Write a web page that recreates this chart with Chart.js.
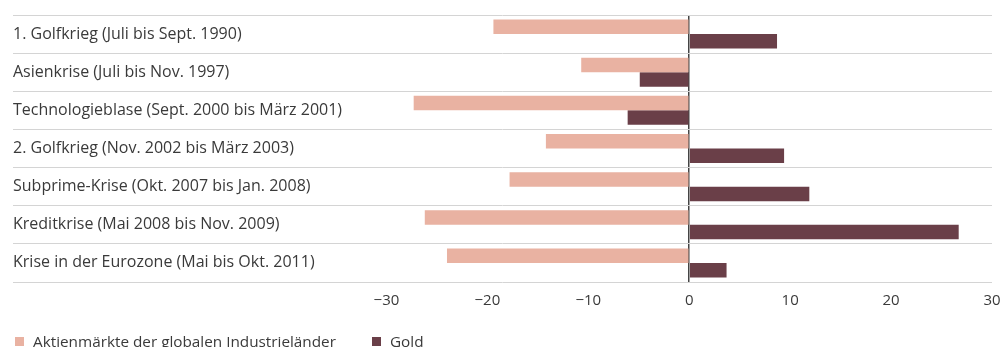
<!DOCTYPE html>
<html>
<head>
<meta charset="utf-8">
<script src="https://cdn.jsdelivr.net/npm/chart.js@4"></script>
<style>
  body { margin: 0; background: #fff; }
  #wrap { position: relative; width: 1005px; height: 347px; }
  #legend { position: absolute; left: 15px; top: 333px; font: 15.3px "Open Sans", sans-serif; color: #3a3a3a; line-height: 16px; white-space: nowrap; }
  #legend span.box { display: inline-block; width: 9px; height: 9px; margin-right: 9px; vertical-align: 1px; }
  #legend span.item { margin-right: 36px; }
</style>
</head>
<body>
<div id="wrap">
  <canvas id="myChart" width="1005" height="347"></canvas>
  <div id="legend"></div>
</div>
<script>
const categories = [
  "1. Golfkrieg (Juli bis Sept. 1990)",
  "Asienkrise (Juli bis Nov. 1997)",
  "Technologieblase (Sept. 2000 bis März 2001)",
  "2. Golfkrieg (Nov. 2002 bis März 2003)",
  "Subprime-Krise (Okt. 2007 bis Jan. 2008)",
  "Kreditkrise (Mai 2008 bis Nov. 2009)",
  "Krise in der Eurozone (Mai bis Okt. 2011)"
];
const aktien = [-19.4, -10.7, -27.3, -14.2, -17.8, -26.2, -24.0];
const gold = [8.7, -4.9, -6.1, 9.4, 11.9, 26.7, 3.7];
const xTicks = [-30, -20, -10, 0, 10, 20, 30];
const seriesNames = ["Aktienmärkte der globalen Industrieländer", "Gold"];
const colors = ["#e9b2a2", "#6a3f48"];

const ctx = document.getElementById('myChart');

new Chart(ctx, {
    type: 'bar',
    data: {
        labels: categories,
        datasets: [
            { label: seriesNames[0], data: aktien, backgroundColor: colors[0] },
            { label: seriesNames[1], data: gold, backgroundColor: colors[1] }
        ]
    },
    options: {
        indexAxis: 'y',
        responsive: false,
        animation: false,
        layout: { padding: { left: 13, right: 13, top: 15, bottom: 37 } },
        categoryPercentage: 0.76,
        barPercentage: 1,
        plugins: {
            legend: { display: false },
            tooltip: { enabled: false }
        },
        scales: {
            x: {
                min: -67,
                max: 30,
                afterBuildTicks: function (axis) {
                    axis.ticks = xTicks.map(v => ({ value: v }));
                },
                grid: {
                    drawTicks: true,
                    tickLength: 10,
                    tickColor: 'rgba(0,0,0,0)',
                    color: c => (c.tick && c.tick.value === 0) ? '#444' : 'rgba(0,0,0,0)',
                    lineWidth: 1.5
                },
                border: { display: false },
                ticks: {
                    autoSkip: false,
                    padding: 0,
                    color: '#3a3a3a',
                    font: { family: 'Open Sans', size: 15 },
                    callback: v => v < 0 ? '\u2212' + Math.abs(v) : String(v)
                }
            },
            y: {
                grid: { drawTicks: false, color: '#d4d4d4', lineWidth: 1 },
                border: { display: false },
                ticks: {
                    mirror: true,
                    padding: 0,
                    color: '#3a3a3a',
                    font: { family: 'Open Sans', size: 16 }
                }
            }
        }
    }
});

const legend = document.getElementById('legend');
seriesNames.forEach((name, i) => {
    const item = document.createElement('span');
    item.className = 'item';
    const box = document.createElement('span');
    box.className = 'box';
    box.style.background = colors[i];
    item.appendChild(box);
    item.appendChild(document.createTextNode(name));
    legend.appendChild(item);
});
</script>
</body>
</html>
